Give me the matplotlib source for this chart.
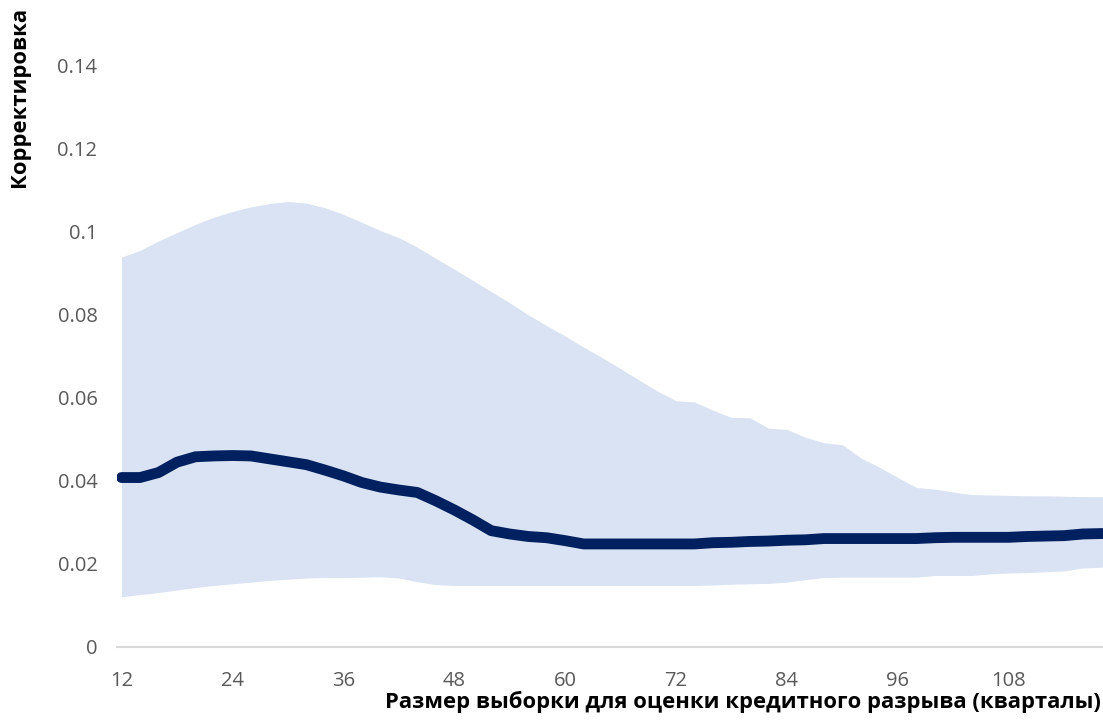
import matplotlib
matplotlib.use("Agg")
import matplotlib.pyplot as plt
from matplotlib.ticker import FuncFormatter

# Sample size (quarters)
quarters = list(range(12, 121, 2))

# Upper bound of the band
upper = [0.0939, 0.0955, 0.0978, 0.0998, 0.1018, 0.1035, 0.1049, 0.1060, 0.1068, 0.1073,
         0.1069, 0.1058, 0.1042, 0.1023, 0.1003, 0.0986, 0.0963, 0.0936, 0.0910, 0.0883,
         0.0856, 0.0829, 0.0800, 0.0774, 0.0749, 0.0722, 0.0697, 0.0670, 0.0643, 0.0616,
         0.0593, 0.0590, 0.0570, 0.0553, 0.0552, 0.0527, 0.0524, 0.0505, 0.0492, 0.0487,
         0.0455, 0.0433, 0.0408, 0.0384, 0.0380, 0.0373, 0.0367, 0.0366, 0.0365, 0.0364,
         0.0364, 0.0363, 0.0362, 0.0362, 0.0361]

# Point estimate of the correction
central = [0.0408, 0.0408, 0.0420, 0.0445, 0.0458, 0.0460, 0.0461, 0.0460, 0.0453, 0.0446,
           0.0439, 0.0426, 0.0412, 0.0396, 0.0385, 0.0378, 0.0372, 0.0352, 0.0330, 0.0306,
           0.0280, 0.0272, 0.0266, 0.0263, 0.0256, 0.0248, 0.0248, 0.0248, 0.0248, 0.0248,
           0.0248, 0.0248, 0.0251, 0.0252, 0.0254, 0.0255, 0.0257, 0.0258, 0.0261, 0.0261,
           0.0261, 0.0261, 0.0261, 0.0261, 0.0263, 0.0264, 0.0264, 0.0264, 0.0264, 0.0266,
           0.0267, 0.0268, 0.0272, 0.0273, 0.0273]

# Lower bound of the band
lower = [0.0121, 0.0126, 0.0131, 0.0137, 0.0143, 0.0148, 0.0152, 0.0156, 0.0160, 0.0163,
         0.0166, 0.0167, 0.0167, 0.0168, 0.0169, 0.0166, 0.0157, 0.0150, 0.0148, 0.0148,
         0.0148, 0.0148, 0.0148, 0.0148, 0.0148, 0.0148, 0.0148, 0.0148, 0.0148, 0.0148,
         0.0148, 0.0148, 0.0149, 0.0151, 0.0152, 0.0153, 0.0156, 0.0162, 0.0167, 0.0168,
         0.0168, 0.0168, 0.0168, 0.0168, 0.0172, 0.0172, 0.0172, 0.0176, 0.0178, 0.0179,
         0.0181, 0.0183, 0.0190, 0.0192, 0.0192]

x_ticks = [12, 24, 36, 48, 60, 72, 84, 96, 108]
y_ticks = [0, 0.02, 0.04, 0.06, 0.08, 0.1, 0.12, 0.14]

plt.rcParams["font.family"] = ["Open Sans", "DejaVu Sans"]

fig = plt.figure(figsize=(11.03, 7.22), dpi=100)
ax = fig.add_axes([0.106, 0.104, 0.894, 0.805])

ax.fill_between(quarters, lower, upper, color="#DAE3F3", linewidth=0)
ax.plot(quarters, central, color="#002060", linewidth=7.8, solid_capstyle="round",
        solid_joinstyle="round")

ax.set_xlim(11.5, 118.2)
ax.set_ylim(0, 0.14)
ax.set_xticks(x_ticks)
ax.set_yticks(y_ticks)
ax.yaxis.set_major_formatter(FuncFormatter(lambda v, p: f"{v:g}"))

for s in ["top", "right", "left"]:
    ax.spines[s].set_visible(False)
ax.spines["bottom"].set_color("#D9D9D9")
ax.spines["bottom"].set_linewidth(1.5)

ax.tick_params(axis="both", length=0, labelsize=14.5, labelcolor="#595959")
ax.tick_params(axis="y", pad=14)
ax.tick_params(axis="x", pad=17)

fig.text(0.998, 0.012, "Размер выборки для оценки кредитного разрыва (кварталы)",
         ha="right", va="bottom", fontsize=15.8, fontweight="bold")
fig.text(0.008, 0.99, "Корректировка", rotation=90, ha="left", va="top",
         fontsize=15.8, fontweight="bold")

fig.savefig("out.png", dpi=100)
